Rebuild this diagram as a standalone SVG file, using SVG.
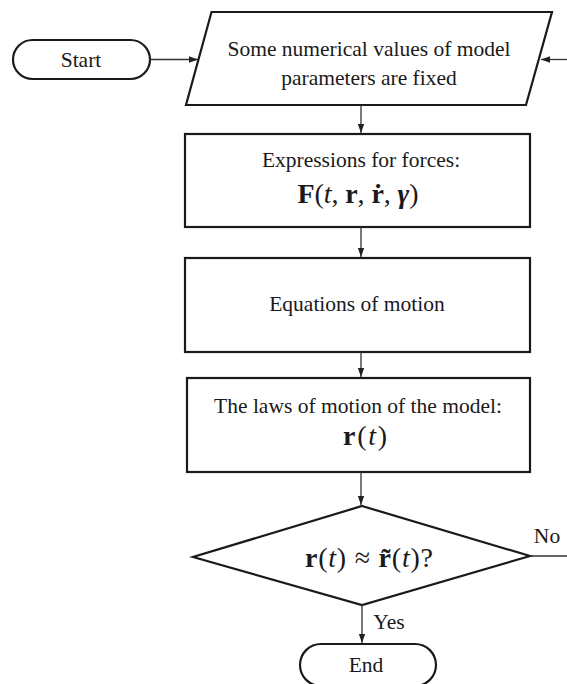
<svg xmlns="http://www.w3.org/2000/svg" width="567" height="684" viewBox="0 0 567 684">
<defs>
<marker id="ah" viewBox="0 0 10 10" refX="10" refY="5" markerWidth="9" markerHeight="9" markerUnits="userSpaceOnUse" orient="auto">
<path d="M0,1.5 L10,5 L0,8.5 Z" fill="#222"/>
</marker>
</defs>
<style>
.s{fill:#fff;stroke:#1a1a1a;stroke-width:2.2}
.c{fill:none;stroke:#333;stroke-width:1.3}
text{font-family:"Liberation Serif","Times New Roman",serif;fill:#1a1a1a;text-anchor:middle}
.t{font-size:21.5px}
.m{font-size:28px}
.b{font-weight:bold}
.i{font-style:italic}
</style>
<rect width="567" height="684" fill="#fff"/>
<g id="start"><rect class="s" x="13" y="40" width="137" height="39" rx="19.5"/><text class="t" x="81" y="67">Start</text></g>
<g id="fix"><path class="s" d="M211.5,12 L552,12 L526,105 L186,105 Z"/><text class="t" x="369" y="56">Some numerical values of model</text><text class="t" x="369" y="85">parameters are fixed</text></g>
<g id="forces"><rect class="s" x="185" y="134" width="345" height="93"/><text class="t" x="361" y="167">Expressions for forces:</text><text class="m" x="358" y="203" textLength="121" lengthAdjust="spacing"><tspan class="b">F</tspan>(<tspan class="i">t</tspan>, <tspan class="b">r</tspan>, <tspan class="b">ṙ</tspan>, <tspan class="b i">γ</tspan>)</text></g>
<g id="eqs"><rect class="s" x="185" y="258" width="345" height="94"/><text class="t" x="357" y="311">Equations of motion</text></g>
<g id="laws"><rect class="s" x="187" y="378" width="343" height="94"/><text class="t" x="358" y="413">The laws of motion of the model:</text><text class="m" x="365" y="445" textLength="44" lengthAdjust="spacing"><tspan class="b">r</tspan>(<tspan class="i">t</tspan>)</text></g>
<g id="check"><path class="s" d="M362,506 L530,556 L362,605 L193,557 Z"/><text class="m" x="369" y="567" textLength="128" lengthAdjust="spacing"><tspan class="b">r</tspan>(<tspan class="i">t</tspan>) ≈ <tspan class="b">r̃</tspan>(<tspan class="i">t</tspan>)?</text></g>
<g id="end"><rect class="s" x="300" y="644" width="136" height="42" rx="21"/><text class="t" x="366" y="672">End</text></g>
<g id="connectors">
<path class="c" d="M150,59.5 H198" marker-end="url(#ah)"/>
<path class="c" d="M567,59.5 H541" marker-end="url(#ah)"/>
<path class="c" d="M361,105 V133" marker-end="url(#ah)"/>
<path class="c" d="M361,227 V257" marker-end="url(#ah)"/>
<path class="c" d="M361,352 V377" marker-end="url(#ah)"/>
<path class="c" d="M361,472 V505" marker-end="url(#ah)"/>
<path class="c" d="M530,556 H567"/>
<path class="c" d="M362,605 V643" marker-end="url(#ah)"/>
<text class="t" x="547" y="543">No</text>
<text class="t" x="389" y="629">Yes</text>
</g>
</svg>
